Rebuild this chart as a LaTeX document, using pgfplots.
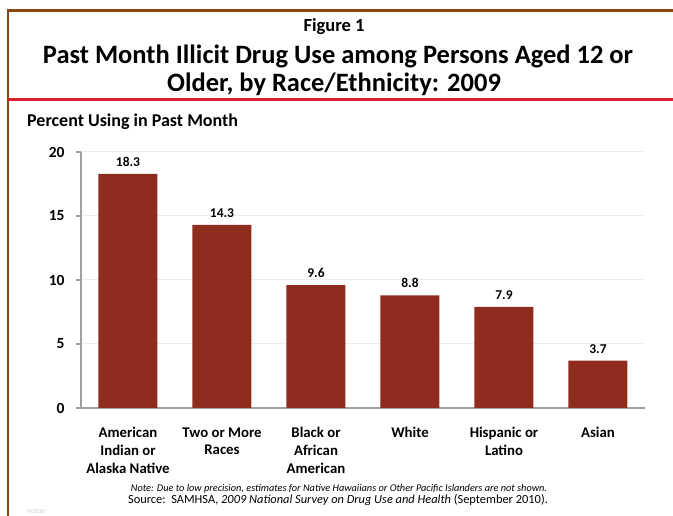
\documentclass[border=0pt]{standalone}
\usepackage{pgfplots}
\pgfplotsset{compat=1.18}
\usepackage{fontspec}
\setmainfont{Carlito}

\definecolor{barred}{RGB}{142,45,30}
\definecolor{framebrown}{RGB}{140,70,20}
\definecolor{rulered}{RGB}{212,35,45}

\newcommand{\fs}[1]{\fontsize{#1}{1.2\dimexpr#1pt\relax}\selectfont}

\begin{document}
\begin{tikzpicture}[x=1pt,y=1pt]
	\useasboundingbox (0,0) rectangle (673,516);
	% frame and rule
	\draw[framebrown, line width=2.5pt] (8,0) -- (8,505.5) -- (673,505.5);
	\draw[rulered, line width=3pt] (8,416) -- (673,416);
	
	% titles
	\node[anchor=base, inner sep=0] at (334,484) {\fs{18.5}\bfseries Figure 1};
	\node[anchor=base, inner sep=0] at (338,452.7) {\fs{26.5}\bfseries Past Month Illicit Drug Use among Persons Aged 12 or};
	\node[anchor=base, inner sep=0] at (334,424.3) {\fs{26.5}\bfseries Older, by Race/Ethnicity: 2009};
	\node[anchor=base west, inner sep=0] at (27,389) {\fs{18}\bfseries Percent Using in Past Month};
	
	\begin{axis}[
		at={(81pt,108pt)}, anchor=south west,
		scale only axis,
		width=564pt, height=256pt,
		xmin=-0.5, xmax=5.5,
		ymin=0, ymax=20,
		ytick={0,5,10,15,20},
		xtick={0,1,2,3,4,5},
		xticklabels={{American\\Indian or\\Alaska Native},{Two or More\\Races},{Black or\\African\\American},{White},{Hispanic or\\Latino},{Asian}},
		axis x line*=bottom, axis y line*=left,
		axis line style={gray!75, line width=1.2pt},
		xtick style={draw=none},
		ytick style={gray!75, line width=1.2pt},
		tick align=outside,
		major tick length=5pt,
		ymajorgrids=true,
		grid style={gray!15, line width=1pt},
		/pgf/number format/assume math mode=true,
		yticklabel style={font=\fs{15.5}\bfseries, xshift=-8pt},
		xticklabel style={font=\fs{14.8}\bfseries, align=center, anchor=north, yshift=-11pt},
		ybar, bar width=59pt,
		nodes near coords,
		nodes near coords style={font=\fs{13.5}\bfseries, anchor=base, yshift=7.5pt,
			/pgf/number format/.cd, fixed, fixed zerofill, precision=1},
		]
		\addplot[fill=barred, draw=none] coordinates {
			(0, 18.3)
			(1, 14.3)
			(2, 9.6)
			(3, 8.8)
			(4, 7.9)
			(5, 3.7)
		};
	\end{axis}
	
	% notes
	\node[anchor=base, inner sep=0] at (339,24.3) {\fs{10.3}\itshape Note: Due to low precision, estimates for Native Hawaiians or Other Pacific Islanders are not shown.};
	\node[anchor=base, inner sep=0] at (338,12) {\fs{12.4}Source:\ \ SAMHSA, \textit{2009 National Survey on Drug Use and Health} (September 2010).};
	\node[anchor=base west, inner sep=0, text=gray!45] at (27,2) {\fs{6}9/2010};
\end{tikzpicture}
\end{document}
